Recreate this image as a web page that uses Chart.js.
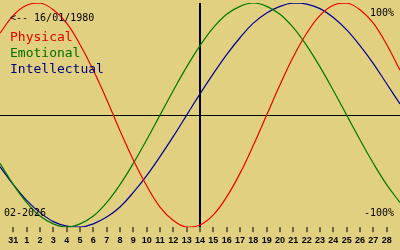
<!DOCTYPE html>
<html>
<head>
<meta charset="utf-8">
<script src="https://cdn.jsdelivr.net/npm/chart.js@4"></script>
<style>
  html, body { margin: 0; padding: 0; background: #e0d080; }
  .chartbox { width: 400px; height: 250px; }
</style>
</head>
<body>
<div class="chartbox"><canvas id="bio" width="400" height="250"></canvas></div>
<script>
// x positions: -1 = 30 Jan, 0 = 31 Jan, 1..28 = Feb days, 29 = 1 Mar
const dayPos = [-1, 0, 1, 2, 3, 4, 5, 6, 7, 8, 9, 10, 11, 12, 13, 14, 15, 16, 17, 18, 19, 20, 21, 22, 23, 24, 25, 26, 27, 28, 29];
const dayLabels = ["31", "1", "2", "3", "4", "5", "6", "7", "8", "9", "10", "11", "12", "13", "14",
  "15", "16", "17", "18", "19", "20", "21", "22", "23", "24", "25", "26", "27", "28"];

const physical = [0.73, 0.89, 0.98, 1.00, 0.94, 0.82, 0.63, 0.40, 0.14, -0.14, -0.40, -0.63, -0.82, -0.94, -1.00, -0.98,
  -0.89, -0.73, -0.52, -0.27, 0.00, 0.27, 0.52, 0.73, 0.89, 0.98, 1.00, 0.94, 0.82, 0.63, 0.40];
const emotional = [-0.43, -0.62, -0.78, -0.90, -0.97, -1.00, -0.97, -0.90, -0.78, -0.62, -0.43, -0.22, 0.00, 0.22, 0.43, 0.62,
  0.78, 0.90, 0.97, 1.00, 0.97, 0.90, 0.78, 0.62, 0.43, 0.22, 0.00, -0.22, -0.43, -0.62, -0.78];
const intellectual = [-0.46, -0.62, -0.76, -0.87, -0.95, -0.99, -1.00, -0.97, -0.91, -0.82, -0.69, -0.54, -0.37, -0.19, 0.00, 0.19,
  0.37, 0.54, 0.69, 0.82, 0.91, 0.97, 1.00, 0.99, 0.95, 0.87, 0.76, 0.62, 0.46, 0.28, 0.10];

const todayPos = 14;
const birthText = "<-- 16/01/1980";
const monthText = "02-2026";

function pts(vals) {
    return vals.map((v, i) => ({ x: dayPos[i], y: v }));
}

const bgPlugin = {
    id: "bg",
    beforeDraw(chart) {
        const c = chart.ctx;
        c.save();
        c.fillStyle = "#e0d080";
        c.fillRect(0, 0, chart.width, chart.height);
        c.restore();
    }
};

const textPlugin = {
    id: "texts",
    afterDraw(chart) {
        const c = chart.ctx;
        c.save();
        c.textBaseline = "alphabetic";
        c.font = "10px 'DejaVu Sans Mono'";
        c.fillStyle = "#000000";
        c.textAlign = "left";
        c.fillText(birthText, 10, 20.5);
        c.fillText(monthText, 4, 216);
        c.textAlign = "right";
        c.fillText("100%", 394, 16);
        c.fillText("-100%", 394, 216);
        c.textAlign = "left";
        c.font = "13px 'DejaVu Sans Mono'";
        c.fillStyle = "#e00000";
        c.fillText("Physical", 10, 41);
        c.fillStyle = "#007000";
        c.fillText("Emotional", 10, 57);
        c.fillStyle = "#000080";
        c.fillText("Intellectual", 10, 73);
        c.restore();
    }
};

const line = (label, data, color) => ({
    label: label,
    data: pts(data),
    borderColor: color,
    borderWidth: 1.2,
    pointRadius: 0,
    tension: 0.4,
    fill: false
});

new Chart(document.getElementById("bio").getContext("2d"), {
    type: "line",
    data: {
        datasets: [
            line("Physical", physical, "#ee0000"),
            line("Emotional", emotional, "#007800"),
            line("Intellectual", intellectual, "#000098")
        ]
    },
    options: {
        responsive: false,
        animation: false,
        devicePixelRatio: 1,
        layout: { padding: { top: 3, bottom: 1, left: 0, right: 0 } },
        plugins: { legend: { display: false }, tooltip: { enabled: false } },
        scales: {
            x: {
                type: "linear",
                min: -1,
                max: 29,
                afterBuildTicks: axis => {
                    axis.ticks = dayLabels.map((_, i) => ({ value: i }));
                },
                ticks: {
                    autoSkip: false,
                    maxRotation: 0,
                    padding: 3,
                    color: "#000000",
                    font: { family: "'Liberation Sans'", size: 9, weight: "bold" },
                    callback: v => dayLabels[v]
                },
                grid: {
                    drawOnChartArea: true,
                    color: ctx => (ctx.tick && ctx.tick.value === todayPos ? "#000000" : "rgba(0,0,0,0)"),
                    lineWidth: 2,
                    tickColor: "#000000",
                    tickWidth: 1,
                    tickLength: 5
                },
                border: { display: false }
            },
            y: {
                min: -1,
                max: 1,
                ticks: { display: false, stepSize: 1 },
                grid: {
                    drawTicks: false,
                    color: ctx => (ctx.tick && ctx.tick.value === 0 ? "#000000" : "rgba(0,0,0,0)"),
                    lineWidth: 1
                },
                border: { display: false }
            }
        }
    },
    plugins: [bgPlugin, textPlugin]
});
</script>
</body>
</html>
